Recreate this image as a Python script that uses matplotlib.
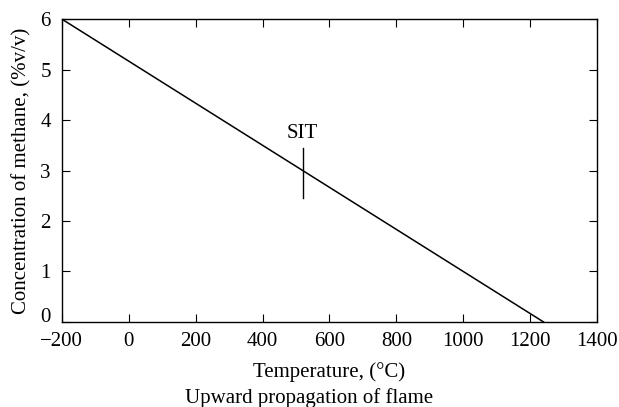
import matplotlib
matplotlib.use("Agg")
import matplotlib.pyplot as plt

# data
temperature = [-200, 1240]
methane = [6, 0]
sit_temp = 520
sit_range = [2.45, 3.45]
x_ticks = [-200, 0, 200, 400, 600, 800, 1000, 1200, 1400]
y_ticks = [0, 1, 2, 3, 4, 5, 6]

plt.rcParams["font.family"] = ["Liberation Serif", "DejaVu Serif"]

fig = plt.figure(figsize=(6.19, 4.07), dpi=100)
ax = fig.add_axes([0.100, 0.209, 0.8645, 0.744])

ax.plot(temperature, methane, color="black", linewidth=1.1)
ax.plot([sit_temp, sit_temp], sit_range, color="black", linewidth=1.0)
ax.text(sit_temp, 3.54, "SIT", ha="center", va="bottom", fontsize=15)

ax.set_xlim(-200, 1400)
ax.set_ylim(0, 6)
ax.set_xticks(x_ticks)
ax.set_yticks(y_ticks)
ax.set_xticklabels(["\u2212200" if t < 0 else str(t) for t in x_ticks])
ax.tick_params(direction="in", top=True, right=True, length=6, width=0.8,
               labelsize=15)
ax.tick_params(axis="x", pad=7)
ax.tick_params(axis="y", pad=8)
ylabs = ax.get_yticklabels()
ylabs[0].set_va("baseline")
ylabs[-1].set_va("center_baseline")
for s in ax.spines.values():
    s.set_linewidth(1.0)

ax.set_xlabel("Temperature, (\u00b0C)", fontsize=15, labelpad=8)
ax.set_ylabel("Concentration of methane, (%v/v)", fontsize=15, labelpad=6)
fig.text(0.5, 0.022, "Upward propagation of flame", ha="center", va="center", fontsize=15)

fig.savefig("out.png", dpi=100)
